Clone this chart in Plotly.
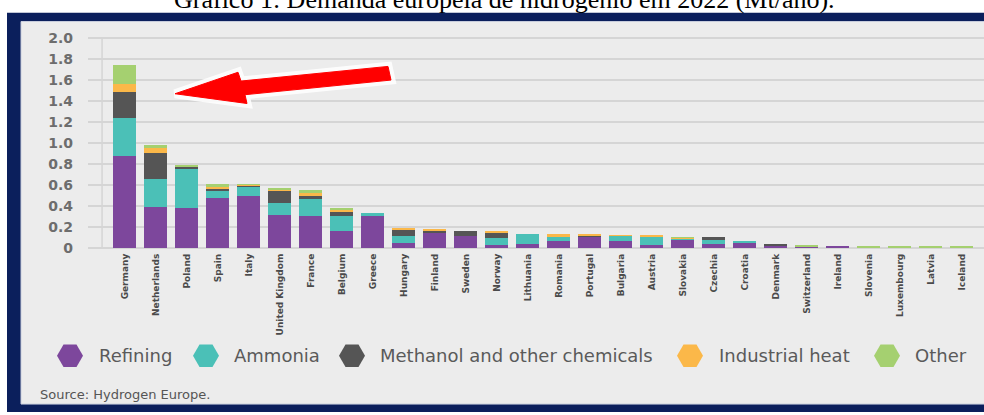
import plotly.graph_objects as go

# European hydrogen demand in 2022 by end use (Mt/year)
countries = ["Germany", "Netherlands", "Poland", "Spain", "Italy", "United Kingdom",
             "France", "Belgium", "Greece", "Hungary", "Finland", "Sweden", "Norway",
             "Lithuania", "Romania", "Portugal", "Bulgaria", "Austria", "Slovakia",
             "Czechia", "Croatia", "Denmark", "Switzerland", "Ireland", "Slovenia",
             "Luxembourg", "Latvia", "Iceland"]

refining = [0.875, 0.39, 0.377, 0.476, 0.498, 0.31, 0.303, 0.158, 0.303, 0.05, 0.148,
            0.118, 0.025, 0.04, 0.063, 0.108, 0.062, 0.025, 0.082, 0.038, 0.045, 0.024,
            0.012, 0.008, 0, 0, 0, 0]
ammonia = [0.36, 0.263, 0.378, 0.069, 0.087, 0.12, 0.158, 0.145, 0.025, 0.061, 0, 0,
           0.071, 0.096, 0.042, 0, 0.049, 0.08, 0.006, 0.036, 0.015, 0, 0, 0, 0, 0, 0, 0]
methanol = [0.245, 0.253, 0.015, 0.015, 0.006, 0.111, 0.031, 0.04, 0, 0.064, 0.015,
            0.047, 0.046, 0, 0, 0.007, 0, 0.005, 0, 0.031, 0, 0.003, 0.002, 0, 0, 0, 0, 0]
industrial_heat = [0.075, 0.04, 0, 0.018, 0.006, 0.012, 0.034, 0.022, 0, 0.012, 0.01, 0,
                   0.014, 0, 0.03, 0.006, 0.003, 0.008, 0.008, 0, 0, 0, 0, 0, 0, 0, 0, 0]
other = [0.18, 0.035, 0.008, 0.032, 0.003, 0.016, 0.021, 0.009, 0, 0, 0, 0, 0, 0, 0, 0,
         0, 0, 0.004, 0, 0, 0, 0.002, 0, 0.012, 0.012, 0.012, 0.012]

series_names = ["Refining", "Ammonia", "Methanol and other chemicals",
                "Industrial heat", "Other"]
series_values = [refining, ammonia, methanol, industrial_heat, other]
series_colors = ["#7d479c", "#4bc0b7", "#555555", "#fbb849", "#a5d070"]

y_tick_values = [0, 0.2, 0.4, 0.6, 0.8, 1.0, 1.2, 1.4, 1.6, 1.8, 2.0]
y_tick_labels = ["0", "0.2", "0.4", "0.6", "0.8", "1.0", "1.2", "1.4", "1.6", "1.8", "2.0"]

title_text = "Gráfico 1: Demanda europeia de hidrogênio em 2022 (Mt/ano)."
source_text = "Source: Hydrogen Europe."

W, H = 984, 415


def px(x):
    return x / W


def py(y):
    return 1 - y / H


fig = go.Figure()

for name, vals, color in zip(series_names, series_values, series_colors):
    fig.add_trace(go.Bar(x=countries, y=vals, name=name, marker_color=color,
                         marker_line_width=0, showlegend=False))

# hand-placed legend: hexagon swatches on a full-figure pixel axis
legend_marker_x = [70, 206, 352, 690, 887]
legend_text_x = [97, 232, 378, 717, 913]
legend_y = 362.5
fig.add_trace(go.Scatter(x=legend_marker_x, y=[legend_y] * 5, mode="markers",
                         marker=dict(symbol="hexagon2", size=26, color=series_colors,
                                     line_width=0),
                         xaxis="x2", yaxis="y2", showlegend=False, hoverinfo="skip"))

shapes = [
    # navy frame and light panel
    dict(type="rect", xref="paper", yref="paper", x0=px(7), x1=px(W + 5), y0=py(H + 5),
         y1=py(11), fillcolor="#0b1f5c", line_width=0, layer="below"),
    dict(type="rect", xref="paper", yref="paper", x0=px(21), x1=px(W + 5), y0=py(412),
         y1=py(20), fillcolor="#ececec", line=dict(color="#c9cedd", width=1),
         layer="below"),
    # value axis line
    dict(type="line", xref="x", yref="y", x0=-0.73, x1=-0.73, y0=0, y1=2.0,
         line=dict(color="#d5d5d5", width=1.5), layer="below"),
]

arrow_pts = [(175, 94), (238, 72), (241, 81), (388, 66), (391, 80), (245, 95), (247, 104)]
arrow_path = "M " + " L ".join(f"{px(x):.5f},{py(y):.5f}" for x, y in arrow_pts) + " Z"
shapes.append(dict(type="path", xref="paper", yref="paper", path=arrow_path,
                   fillcolor="white", line=dict(color="rgba(255,255,255,0.85)", width=9)))
shapes.append(dict(type="path", xref="paper", yref="paper", path=arrow_path,
                   fillcolor="#ff0000", line=dict(color="#ff0000", width=1)))

annotations = [
    dict(text=title_text, x=px(504), y=py(-3), xref="paper", yref="paper",
         xanchor="center", yanchor="middle", showarrow=False,
         font=dict(family="Liberation Serif", size=26, color="#000000")),
    dict(text=source_text, x=px(38), y=py(402), xref="paper", yref="paper",
         xanchor="left", yanchor="middle", showarrow=False,
         font=dict(family="DejaVu Sans", size=13, color="#555555")),
]
for name, tx in zip(series_names, legend_text_x):
    annotations.append(dict(text=name, x=px(tx), y=py(legend_y), xref="paper",
                            yref="paper", xanchor="left", yanchor="middle",
                            showarrow=False,
                            font=dict(family="DejaVu Sans", size=18, color="#5a5a5a")))

fig.update_layout(
    width=W, height=H,
    margin=dict(l=0, r=0, t=0, b=0),
    paper_bgcolor="white",
    plot_bgcolor="rgba(0,0,0,0)",
    barmode="stack",
    bargap=0.26,
    shapes=shapes,
    annotations=annotations,
    xaxis=dict(domain=[px(88), 1], range=[-1.184, 27.72], type="category",
               tickangle=-90, showgrid=False, showline=False, zeroline=False,
               ticks="", ticklabelstandoff=3,
               tickfont=dict(family="DejaVu Sans", size=9, color="#4a4a4a",
                             weight="bold")),
    yaxis=dict(domain=[py(252), py(30)], range=[0, 222 / 107.75],
               tickvals=y_tick_values, ticktext=y_tick_labels,
               showgrid=True, gridcolor="#d5d5d5", gridwidth=1.5,
               zeroline=True, zerolinecolor="#d5d5d5", zerolinewidth=1.5,
               showline=False, ticks="", ticklabelstandoff=14,
               tickfont=dict(family="DejaVu Sans", size=14, color="#6d6d6d",
                             weight="bold")),
    xaxis2=dict(domain=[0, 1], range=[0, W], visible=False, anchor="y2"),
    yaxis2=dict(domain=[0, 1], range=[H, 0], visible=False, anchor="x2"),
)

fig.write_html("out.html")
